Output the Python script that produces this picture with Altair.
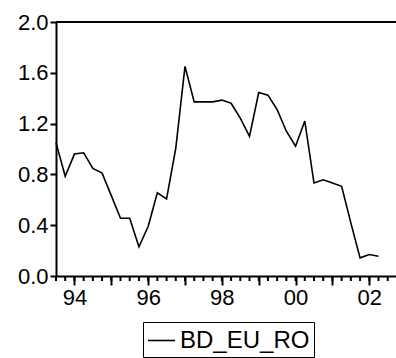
import altair as alt
import pandas as pd

quarters = ["1993Q3", "1993Q4",
            "1994Q1", "1994Q2", "1994Q3", "1994Q4",
            "1995Q1", "1995Q2", "1995Q3", "1995Q4",
            "1996Q1", "1996Q2", "1996Q3", "1996Q4",
            "1997Q1", "1997Q2", "1997Q3", "1997Q4",
            "1998Q1", "1998Q2", "1998Q3", "1998Q4",
            "1999Q1", "1999Q2", "1999Q3", "1999Q4",
            "2000Q1", "2000Q2", "2000Q3", "2000Q4",
            "2001Q1", "2001Q2", "2001Q3", "2001Q4",
            "2002Q1", "2002Q2"]
bd_eu_ro = [1.05, 0.785, 0.96, 0.97, 0.847, 0.81, 0.633, 0.455, 0.455, 0.23,
            0.39, 0.655, 0.607, 1.007, 1.65, 1.371, 1.371, 1.371, 1.385, 1.36,
            1.243, 1.10, 1.445, 1.424, 1.31, 1.14, 1.022, 1.22, 0.732, 0.758,
            0.732, 0.706, 0.418, 0.143, 0.169, 0.156]
series_name = "BD_EU_RO"
y_ticks = [0.0, 0.4, 0.8, 1.2, 1.6, 2.0]
n_quarter_ticks = 37
major_tick_idx = [2, 6, 10, 14, 18, 22, 26, 30, 34]

df = pd.DataFrame({
    "quarter": quarters,
    "idx": list(range(len(quarters))),
    "value": bd_eu_ro,
    "series": [series_name] * len(quarters),
})
ticks_df = pd.DataFrame({"idx": list(range(n_quarter_ticks))})

FONT = "Liberation Sans"
W, H = 340, 254
X_END = 36.9

x_scale = alt.Scale(domain=[0, X_END], nice=False, zero=False)

line = alt.Chart(df).mark_line(color="#000000", strokeWidth=1.6).encode(
    x=alt.X("idx:Q", scale=x_scale,
            axis=alt.Axis(
                title=None,
                values=major_tick_idx,
                labelExpr="(datum.value - 2) % 8 == 0 ? slice(toString(1994 + (datum.value - 2) / 4), 2) : ''",
                ticks=True,
                tickSize=9,
                tickWidth=2,
                tickColor="#000000",
                domainColor="#000000",
                domainWidth=2,
                labelFont=FONT,
                labelFontSize=22,
                labelColor="#000000",
                labelPadding=2,
                labelOverlap=False,
                labelFlush=False,
                grid=False,
            )),
    y=alt.Y("value:Q",
            scale=alt.Scale(domain=[0, 2.0], nice=False),
            axis=alt.Axis(
                title=None,
                values=y_ticks,
                format=".1f",
                tickSize=6,
                tickWidth=2,
                tickColor="#000000",
                domainColor="#000000",
                domainWidth=2,
                labelFont=FONT,
                labelFontSize=22,
                labelColor="#000000",
                labelPadding=2,
                grid=False,
            )),
    color=alt.Color("series:N",
                    scale=alt.Scale(range=["#000000"]),
                    legend=alt.Legend(
                        title=None,
                        orient="none",
                        legendX=87,
                        legendY=300,
                        symbolType="stroke",
                        symbolSize=729,
                        symbolStrokeWidth=1.6,
                        symbolStrokeColor="#000000",
                        labelFont=FONT,
                        labelFontSize=24,
                        labelColor="#000000",
                        labelLimit=0,
                        strokeColor="#000000",
                        padding=4,
                    )),
)

minor = alt.Chart(ticks_df).mark_rule(color="#000000", strokeWidth=2).encode(
    x=alt.X("idx:Q", scale=x_scale),
    y=alt.value(H),
    y2=alt.value(H + 5),
)

top = alt.Chart(ticks_df).mark_rule(color="#000000", strokeWidth=2).encode(
    x=alt.value(0),
    x2=alt.value(W),
    y=alt.value(0),
)

chart = alt.layer(line, minor, top).properties(
    width=W,
    height=H,
    autosize=alt.AutoSizeParams(type="none"),
    padding={"left": 56, "top": 22, "right": 0, "bottom": 82},
).configure_view(
    strokeWidth=0,
)

chart.save("out.html", embed_options={"renderer": "svg", "actions": False})
